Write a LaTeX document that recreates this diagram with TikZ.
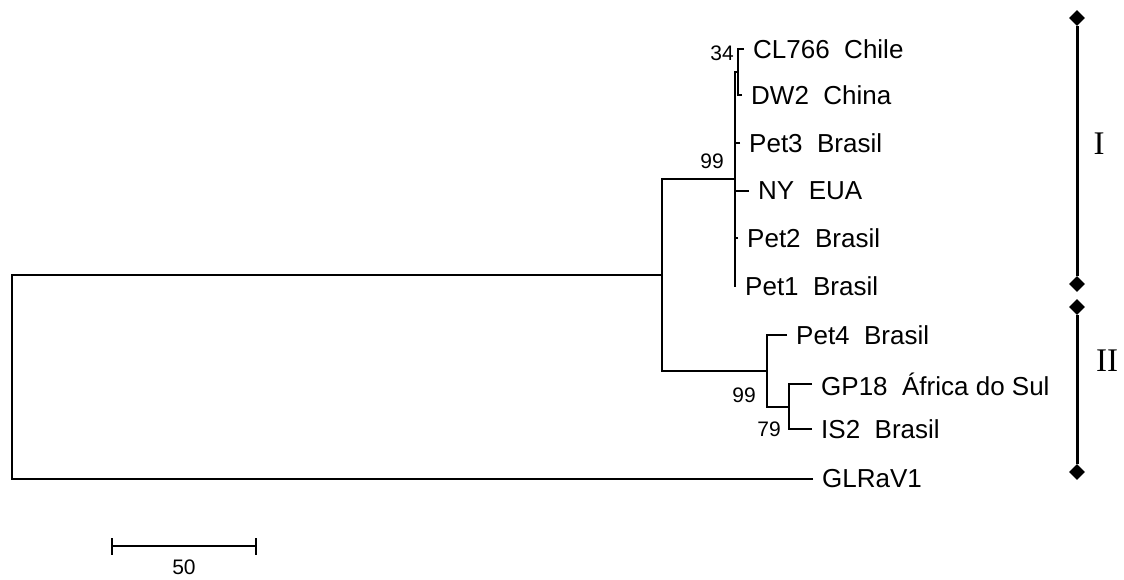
\documentclass[tikz,border=0pt]{standalone}
\usepackage{fontspec}
\setmainfont{Liberation Sans}
\newfontfamily\romanfont{Liberation Serif}
\usetikzlibrary{shapes.geometric}
\begin{document}
\begin{tikzpicture}[x=1pt,y=-1pt,
  branch/.style={line width=1.5pt, line join=miter},
  leaf/.style={anchor=west, inner xsep=9pt, inner ysep=0pt, font=\fontsize{26}{26}\selectfont},
  boot/.style={inner sep=0pt, font=\fontsize{21}{21}\selectfont},
  bracket/.style={line width=3pt},
  tip/.style={diamond, fill=black, inner sep=0pt, minimum size=16pt},
  cladelabel/.style={inner sep=0pt, font=\romanfont\fontsize{33}{33}\selectfont}]
\useasboundingbox (0,0) rectangle (1124,579);
% leaves
\node[leaf] (cl)   at (744,49)  {CL766\ \ Chile};
\node[leaf] (dw)   at (742,95)  {DW2\ \ China};
\node[leaf] (pet3) at (740,143) {Pet3\ \ Brasil};
\node[leaf] (ny)   at (749,191) {NY\ \ EUA};
\node[leaf] (pet2) at (738,238) {Pet2\ \ Brasil};
\node[leaf] (pet1) at (736,286) {Pet1\ \ Brasil};
\node[leaf] (pet4) at (787,335) {Pet4\ \ Brasil};
\node[leaf] (gp)   at (812,384) {GP18\ \ África do Sul};
\node[leaf] (is)   at (812,429) {IS2\ \ Brasil};
\node[leaf] (gl)   at (813,479) {GLRaV1};
% internal nodes
\coordinate (s1) at (738,72);
\coordinate (c1) at (735,179);
\coordinate (nA) at (662,275);
\coordinate (c2) at (767,371);
\coordinate (s2) at (789,407);
\coordinate (r)  at (12,377);
% branches
\draw[branch] (cl.west) -| (s1);
\draw[branch] (dw.west) -| (s1);
\draw[branch] (s1) -| (c1);
\draw[branch] (pet3.west) -| (c1);
\draw[branch] (ny.west) -| (c1);
\draw[branch] (pet2.west) -| (c1);
\draw[branch] (pet1.west) -| (c1);
\draw[branch] (c1) -| (nA);
\draw[branch] (c2) -| (nA);
\draw[branch] (pet4.west) -| (c2);
\draw[branch] (s2) -| (c2);
\draw[branch] (gp.west) -| (s2);
\draw[branch] (is.west) -| (s2);
\draw[branch] (nA) -| (r);
\draw[branch] (gl.west) -| (r);
% bootstrap values
\node[boot] (b34) at (722,53) {34};
\node[boot] (b99a) at (712,161) {99};
\node[boot] (b99b) at (744,395) {99};
\node[boot] (b79) at (769,429) {79};
% scale bar
\coordinate (sbL) at (112,546);
\coordinate (sbR) at (256,546);
\draw[branch] (sbL) -- (sbR);
\draw[branch] ([yshift=-8.5pt]sbL) -- ([yshift=8.5pt]sbL);
\draw[branch] ([yshift=-8.5pt]sbR) -- ([yshift=8.5pt]sbR);
\node[boot] (sbl) at (184,567) {50};
% clade brackets
\node[tip] (t1) at (1077,18) {};
\node[tip] (e1) at (1077,284) {};
\node[tip] (t2) at (1077,307) {};
\node[tip] (e2) at (1077,472) {};
\draw[bracket] (t1) -- (e1);
\draw[bracket] (t2) -- (e2);
\node[cladelabel] (lI) at (1099,144) {I};
\node[cladelabel] (lII) at (1107,361) {II};
\end{tikzpicture}
\end{document}
